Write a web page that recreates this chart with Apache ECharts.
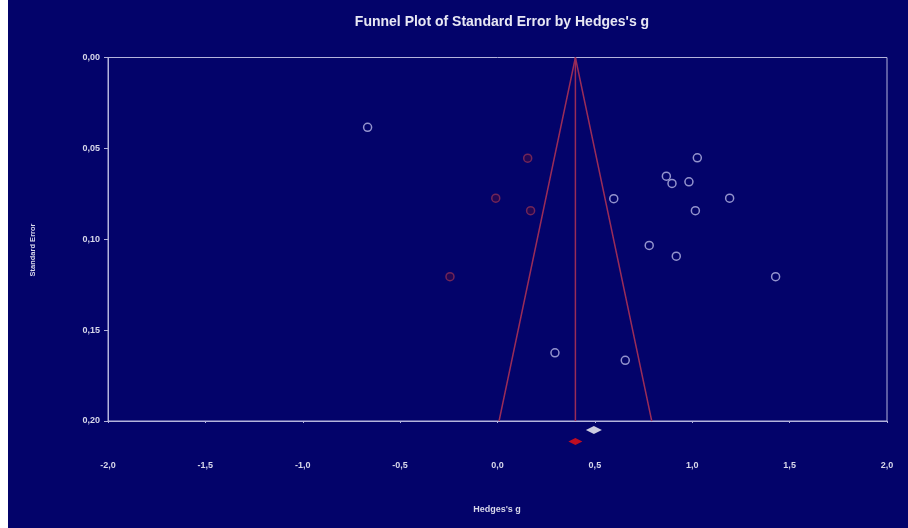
<!DOCTYPE html>
<html>
<head>
<meta charset="utf-8">
<script src="https://cdn.jsdelivr.net/npm/echarts@6/dist/echarts.min.js"></script>
<style>
html,body{margin:0;padding:0;background:#ffffff;}
#chart{width:908px;height:528px;}
</style>
</head>
<body>
<div id="chart"></div>
<script>
// Observed studies (Hedges's g, standard error)
const observedG  = [-0.667, 1.026, 0.867, 0.896, 0.983, 0.597, 1.192, 1.016, 0.779, 0.918, 1.428, 0.295, 0.656];
const observedSE = [0.0384, 0.0552, 0.0653, 0.0693, 0.0684, 0.0777, 0.0774, 0.0843, 0.1034, 0.1093, 0.1206, 0.1625, 0.1666];
// Imputed studies (trim and fill)
const imputedG  = [0.155, -0.009, 0.170, -0.244];
const imputedSE = [0.0554, 0.0774, 0.0843, 0.1206];
// Summary estimates: observed (white) and adjusted (red)
const summaryObservedG = 0.495;
const summaryAdjustedG = 0.40;
const summaryRowSE = [0.2050, 0.2113];
// Funnel
const funnelCenter = 0.40;
const seMax = 0.20;
// Axis ticks
const xTicks = [-2.0, -1.5, -1.0, -0.5, 0.0, 0.5, 1.0, 1.5, 2.0];
const yTicks = [0.00, 0.05, 0.10, 0.15, 0.20];

const zip = (a, b) => a.map((v, i) => [v, b[i]]);
const funnelLeft = funnelCenter - 1.96 * seMax;
const funnelRight = funnelCenter + 1.96 * seMax;

const axisColor = '#b4b4dc';
const labelColor = '#d8d8ea';
const funnelColor = '#9a2c58';
const font = 'Liberation Sans, Arial, sans-serif';

const chart = echarts.init(document.getElementById('chart'), null, {renderer: 'canvas'});
chart.setOption({
  backgroundColor: '#03036a',
  animation: false,
  grid: [
    {left: 108, right: 21, top: 57.5, bottom: 107, show: true, borderColor: axisColor, borderWidth: 1, backgroundColor: 'transparent'},
    {left: 108, right: 21, top: 421, height: 36.4, show: false}
  ],
  xAxis: [
    {
      gridIndex: 0, type: 'value', min: xTicks[0], max: xTicks[xTicks.length - 1], interval: 0.5,
      axisLine: {show: true, onZero: false, lineStyle: {color: axisColor, width: 1}},
      axisTick: {show: true, length: 2, lineStyle: {color: axisColor}},
      splitLine: {show: false},
      axisLabel: {
        margin: 40, color: labelColor, fontFamily: font, fontWeight: 'bold', fontSize: 9,
        formatter: v => v.toFixed(1).replace('.', ',')
      }
    },
    {gridIndex: 1, type: 'value', min: -2, max: 2, show: false}
  ],
  yAxis: [
    {
      gridIndex: 0, type: 'value', min: yTicks[0], max: yTicks[yTicks.length - 1], interval: 0.05, inverse: true,
      axisLine: {show: true, onZero: false, lineStyle: {color: axisColor, width: 1}},
      axisTick: {show: true, length: 4, lineStyle: {color: axisColor}},
      splitLine: {show: false},
      axisLabel: {
        margin: 8, color: labelColor, fontFamily: font, fontWeight: 'bold', fontSize: 9,
        formatter: v => v.toFixed(2).replace('.', ',')
      }
    },
    {gridIndex: 1, type: 'value', min: 0.2, max: 0.22, inverse: true, show: false}
  ],
  title: {
    text: "Funnel Plot of Standard Error by Hedges's g",
    left: 497, top: 10, textAlign: 'center',
    textStyle: {color: '#e8e8f4', fontFamily: font, fontWeight: 'bold', fontSize: 14}
  },
  graphic: [
    {type: 'rect', left: 0, top: 0, shape: {width: 8, height: 528}, style: {fill: '#ffffff'}, silent: true},
    {type: 'text', x: 33, y: 250, rotation: Math.PI / 2,
      style: {text: 'Standard Error', fill: labelColor, font: 'bold 7.5px ' + font, textAlign: 'center', textVerticalAlign: 'middle'}},
    {type: 'text', x: 497, y: 510,
      style: {text: "Hedges's g", fill: labelColor, font: 'bold 9px ' + font, textAlign: 'center', textVerticalAlign: 'middle'}}
  ],
  series: [
    {
      type: 'line', xAxisIndex: 0, yAxisIndex: 0, symbol: 'none', silent: true,
      data: [[funnelLeft, seMax], [funnelCenter, 0], [funnelRight, seMax]],
      lineStyle: {color: funnelColor, width: 1.5}
    },
    {
      type: 'line', xAxisIndex: 0, yAxisIndex: 0, symbol: 'none', silent: true,
      data: [[funnelCenter, 0], [funnelCenter, seMax]],
      lineStyle: {color: funnelColor, width: 1.5}
    },
    {
      type: 'scatter', xAxisIndex: 0, yAxisIndex: 0, symbol: 'circle', symbolSize: 8,
      data: zip(observedG, observedSE),
      itemStyle: {color: 'transparent', borderColor: '#b8b8e6', borderWidth: 1.5}
    },
    {
      type: 'scatter', xAxisIndex: 0, yAxisIndex: 0, symbol: 'circle', symbolSize: 8,
      data: zip(imputedG, imputedSE),
      itemStyle: {color: '#2a0850', borderColor: '#8a2e58', borderWidth: 1.5}
    },
    {
      type: 'scatter', xAxisIndex: 1, yAxisIndex: 1, symbol: 'diamond', symbolSize: [16, 8],
      data: [[summaryObservedG, summaryRowSE[0]]],
      itemStyle: {color: '#ffffff'}
    },
    {
      type: 'scatter', xAxisIndex: 1, yAxisIndex: 1, symbol: 'diamond', symbolSize: [14, 7],
      data: [[summaryAdjustedG, summaryRowSE[1]]],
      itemStyle: {color: '#ee1010'}
    }
  ]
});
</script>
</body>
</html>
